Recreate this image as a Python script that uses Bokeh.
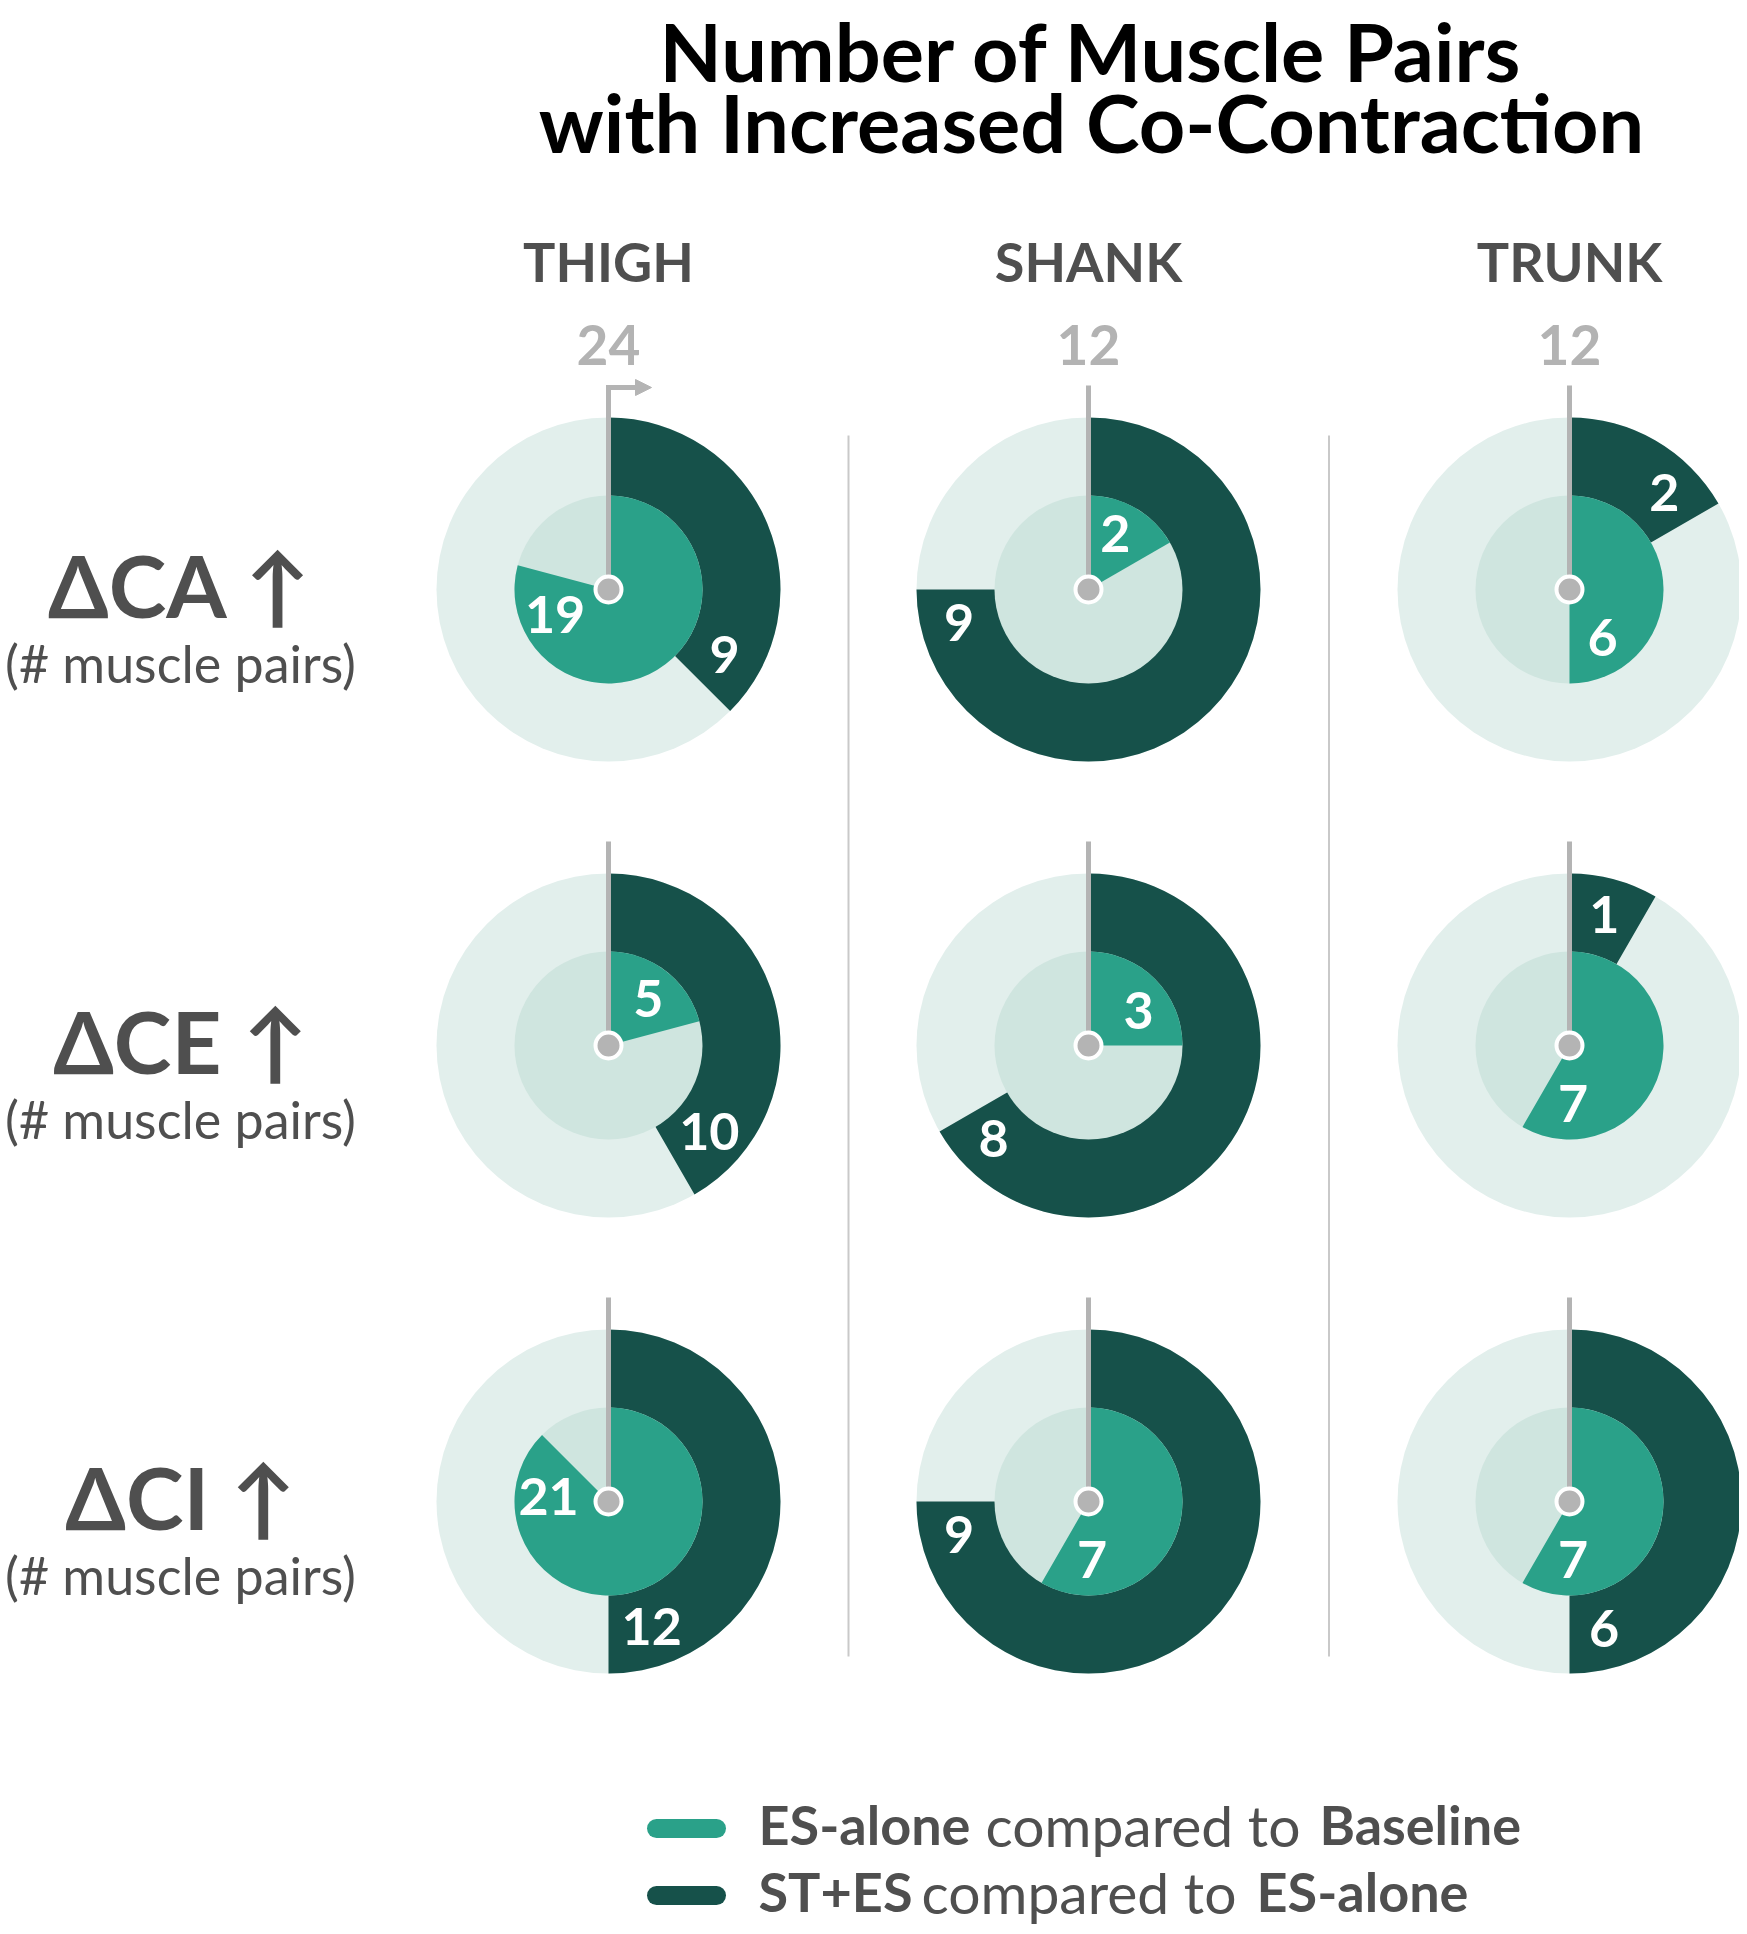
import math
from bokeh.plotting import figure
from bokeh.models import Range1d, Arrow, NormalHead
from bokeh.core.properties import value
from bokeh.embed import file_html
from bokeh.resources import INLINE

# ---------------- data ----------------
regions = ["THIGH", "SHANK", "TRUNK"]
totals = [24, 12, 12]
metrics = ["ΔCA ↑", "ΔCE ↑", "ΔCI ↑"]
metric_sub = "(# muscle pairs)"
# ES-alone compared to Baseline (inner ring), rows = metrics, cols = regions
es_alone = [[19, 2, 6],
            [5, 3, 7],
            [21, 7, 7]]
# ST+ES compared to ES-alone (outer ring)
st_es = [[9, 9, 2],
         [10, 8, 1],
         [12, 9, 6]]
title_lines = ["Number of Muscle Pairs", "with Increased Co-Contraction"]
legend_rows = [[("ES-alone", "bold"), ("compared to", "normal"), ("Baseline", "bold")],
               [("ST+ES", "bold"), ("compared to", "normal"), ("ES-alone", "bold")]]

# ---------------- style / layout ----------------
W, H = 1739, 1926
PAGE_H = 1934
FONT = "Lato"
C_OUT_BG = "#e2efec"
C_IN_BG = "#cfe5df"
C_MED = "#2aa189"
C_DARK = "#16514a"
C_NEEDLE = "#b4b4b4"
C_TEXT = "#4f4f4f"
C_TOTAL = "#b3b3b3"

col_x = [608, 1088, 1569]
row_top = [589, 1045, 1501]
R_OUT, R_IN = 172, 94
R_LAB_IN, R_LAB_OUT = 60, 134


def Y(top):
    return PAGE_H - top


p = figure(width=W, height=H, output_backend="svg", toolbar_location=None,
           x_range=Range1d(0, W), y_range=Range1d(PAGE_H - H, PAGE_H),
           min_border=0, outline_line_color=None, background_fill_color="white",
           border_fill_color="white")
p.axis.visible = False
p.grid.visible = False


def txt(x, ytop, s, size, color, style="bold", align="center"):
    p.text(x=[x], y=[Y(ytop)], text=[s], text_font=value(FONT), text_font_style=style,
           text_font_size=f"{size}px", text_color=color, text_align=align, text_baseline="middle")


# separators
for i in range(len(col_x) - 1):
    xm = (col_x[i] + col_x[i + 1]) / 2
    p.segment(x0=[xm], y0=[Y(435)], x1=[xm], y1=[Y(1656)], line_color="#c9c9c9", line_width=2)

# title
for k, line in enumerate(title_lines):
    txt(1091, 50 + 71 * k, line, 81, "black")

# column headers & totals
for j, reg in enumerate(regions):
    txt(col_x[j], 261, reg, 54, C_TEXT)
    txt(col_x[j], 344, str(totals[j]), 55, C_TOTAL)

# row labels
for i, m in enumerate(metrics):
    cy = row_top[i]
    txt(180, cy - 5, m, 87, C_TEXT)
    txt(180, cy + 73, metric_sub, 52, C_TEXT, style="normal")

# donuts
top = math.pi / 2
for i in range(len(metrics)):
    for j in range(len(regions)):
        cx, cy = col_x[j], Y(row_top[i])
        tot = totals[j]
        fi = es_alone[i][j] / tot
        fo = st_es[i][j] / tot
        p.circle(x=[cx], y=[cy], radius=R_OUT, fill_color=C_OUT_BG, line_color=None)
        p.annular_wedge(x=[cx], y=[cy], inner_radius=R_IN - 1, outer_radius=R_OUT,
                        start_angle=top, end_angle=top - 2 * math.pi * fo, direction="clock",
                        fill_color=C_DARK, line_color=None)
        p.circle(x=[cx], y=[cy], radius=R_IN, fill_color=C_IN_BG, line_color=None)
        p.wedge(x=[cx], y=[cy], radius=R_IN, start_angle=top, end_angle=top - 2 * math.pi * fi,
                direction="clock", fill_color=C_MED, line_color=None)
        # needle
        ntop = cy + 204
        p.segment(x0=[cx], y0=[cy], x1=[cx], y1=[ntop], line_color=C_NEEDLE, line_width=5)
        if i == 0 and j == 0:
            p.add_layout(Arrow(end=NormalHead(size=16, fill_color=C_NEEDLE, line_color=C_NEEDLE),
                               x_start=cx - 2.5, y_start=ntop - 2, x_end=cx + 43, y_end=ntop - 2,
                               line_color=C_NEEDLE, line_width=5))
        p.circle(x=[cx], y=[cy], radius=13, fill_color=C_NEEDLE, line_color="white", line_width=4)
        # value labels, placed near the end of each slice
        for val, frac, rl in ((es_alone[i][j], fi, R_LAB_IN), (st_es[i][j], fo, R_LAB_OUT)):
            s = str(val)
            arc = 26 + 9 * len(s)
            ang = 2 * math.pi * frac - arc / rl  # clockwise from top
            lx = cx + rl * math.sin(ang)
            ly = cy + rl * math.cos(ang) + 2
            p.text(x=[lx], y=[ly], text=[s], text_font=value(FONT), text_font_style="bold",
                   text_font_size="52px", text_color="white", text_align="center", text_baseline="middle")

# legend
leg_y = [1826, 1893]
leg_col = [C_MED, C_DARK]
leg_x = [[758, 985, 1319], [758, 921, 1256]]
for r, row in enumerate(legend_rows):
    p.segment(x0=[656], y0=[Y(leg_y[r] + 2)], x1=[716], y1=[Y(leg_y[r] + 2)], line_color=leg_col[r],
              line_width=19, line_cap="round")
    for k, (t, st) in enumerate(row):
        size = 54 if st == "bold" else 57
        txt(leg_x[r][k], leg_y[r] - 2, t, size, C_TEXT, style=st, align="left")

open("out.html", "w").write(file_html(p, INLINE))
